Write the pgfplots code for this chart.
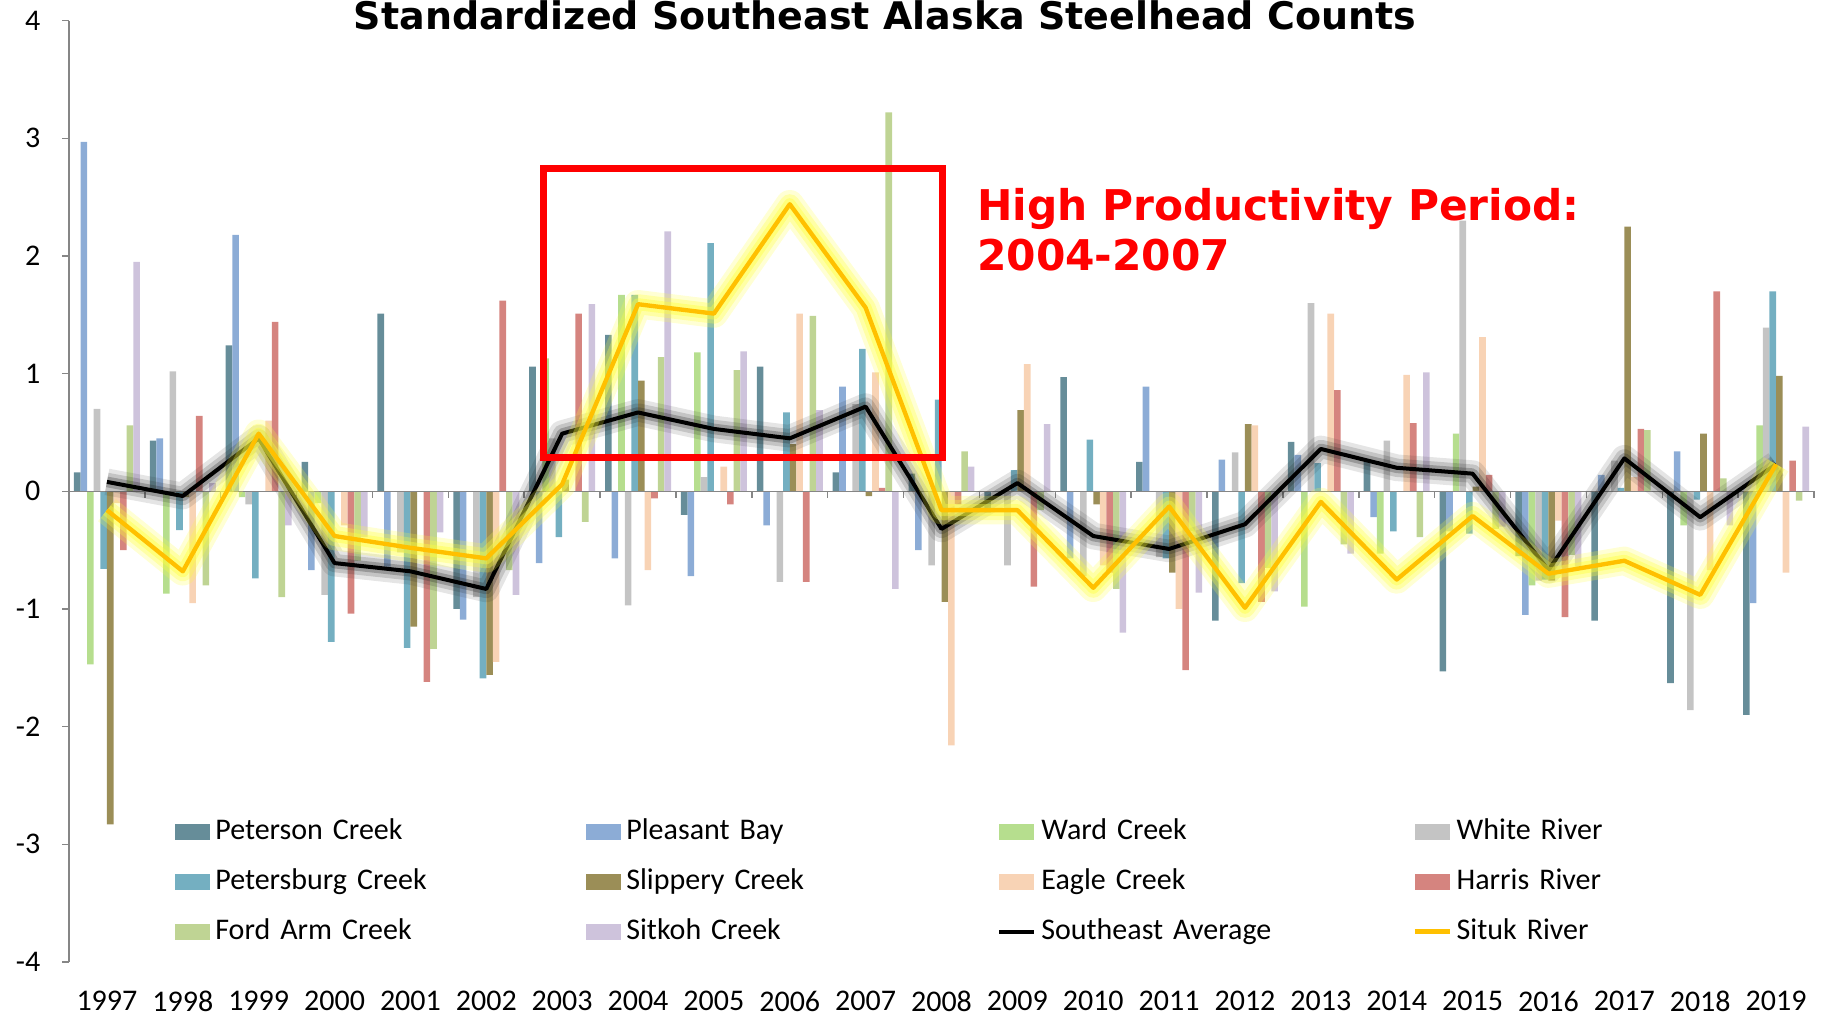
\documentclass[border=0pt]{standalone}
\usepackage{pgfplots}
\pgfplotsset{compat=1.18}
\usepackage{pgfplotstable}
\usepackage{fontspec}
\setmainfont{Carlito}
\newfontfamily\dejavu{DejaVu Sans}

\definecolor{cPet}{HTML}{668D99}
\definecolor{cPle}{HTML}{8CACD6}
\definecolor{cWar}{HTML}{B6DE8E}
\definecolor{cWhi}{HTML}{C4C4C4}
\definecolor{cPsb}{HTML}{74AFC1}
\definecolor{cSli}{HTML}{9B8E57}
\definecolor{cEag}{HTML}{F8D3B5}
\definecolor{cHar}{HTML}{D5847F}
\definecolor{cFor}{HTML}{BFD494}
\definecolor{cSit}{HTML}{CEC3DC}
\definecolor{cSitukLine}{HTML}{FFC000}
\definecolor{cGlowY}{HTML}{FFFF3A}
\definecolor{cGlowK}{HTML}{2A2A2A}
\definecolor{axgray}{HTML}{868686}

\pgfplotstableread{
year Pet Ple War Whi Psb Sli Eag Har For Sit SE Situk
1997 0.16 2.97 -1.47 0.70 -0.66 -2.83 -0.10 -0.50 0.56 1.95 0.08 -0.16
1998 0.43 0.45 -0.87 1.02 -0.33 -0.05 -0.95 0.64 -0.80 0.07 -0.04 -0.68
1999 1.24 2.18 -0.05 -0.11 -0.74 0.00 0.60 1.44 -0.90 -0.29 0.45 0.49
2000 0.25 -0.67 -0.10 -0.88 -1.28 0.00 -0.29 -1.04 -0.59 -0.39 -0.61 -0.38
2001 1.51 -0.64 0.00 -0.52 -1.33 -1.15 0.00 -1.62 -1.34 -0.35 -0.68 -0.48
2002 -1.00 -1.09 0.00 -0.90 -1.59 -1.56 -1.45 1.62 -0.67 -0.88 -0.83 -0.57
2003 1.06 -0.61 1.13 0.45 -0.39 0.10 0.00 1.51 -0.26 1.59 0.49 0.06
2004 1.33 -0.57 1.67 -0.97 1.67 0.94 -0.67 -0.06 1.14 2.21 0.67 1.59
2005 -0.20 -0.72 1.18 0.12 2.11 0.00 0.21 -0.11 1.03 1.19 0.53 1.51
2006 1.06 -0.29 0.00 -0.77 0.67 0.40 1.51 -0.77 1.49 0.69 0.45 2.44
2007 0.16 0.89 0.00 0.74 1.21 -0.04 1.01 0.03 3.22 -0.83 0.72 1.56
2008 0.15 -0.50 0.00 -0.63 0.78 -0.94 -2.16 -0.11 0.34 0.21 -0.32 -0.16
2009 -0.18 0.00 0.00 -0.63 0.18 0.69 1.08 -0.81 -0.16 0.57 0.07 -0.16
2010 0.97 -0.57 0.00 -0.72 0.44 -0.11 -0.63 -0.69 -0.83 -1.20 -0.38 -0.82
2011 0.25 0.89 0.00 -0.56 -0.57 -0.69 -1.00 -1.52 -0.34 -0.86 -0.49 -0.13
2012 -1.10 0.27 0.00 0.33 -0.78 0.57 0.56 -0.94 -0.65 -0.85 -0.28 -0.99
2013 0.42 0.31 -0.98 1.60 0.24 0.00 1.51 0.86 -0.45 -0.53 0.36 -0.09
2014 0.25 -0.22 -0.53 0.43 -0.34 0.00 0.99 0.58 -0.39 1.01 0.20 -0.75
2015 -1.53 -0.34 0.49 2.30 -0.36 0.04 1.31 0.14 -0.32 -0.30 0.15 -0.21
2016 -0.55 -1.05 -0.80 -0.76 -0.75 -0.76 -0.25 -1.07 -0.54 -0.64 -0.67 -0.70
2017 -1.10 0.14 0.00 0.26 0.03 2.25 0.12 0.53 0.52 0.00 0.28 -0.59
2018 -1.63 0.34 -0.29 -1.86 -0.07 0.49 -0.67 1.70 0.11 -0.29 -0.22 -0.88
2019 -1.90 -0.95 0.56 1.39 1.70 0.98 -0.69 0.26 -0.08 0.55 0.23 0.23
}\data

\pgfplotsset{
  mybar/.style={ybar, bar width=0.08696, draw=none,
    legend image code/.code={\fill[##1] (0pt,-2.4pt) rectangle (10.5pt,2.4pt);}},
  myline/.style={sharp plot, mark=none, line join=round,
    legend image code/.code={\draw[##1] (0pt,0pt) -- (10.5pt,0pt);}},
}

\begin{document}
\begin{tikzpicture}
\begin{axis}[
  scale only axis, width=523.5pt, height=282.42pt,
  xmin=1996.5, xmax=2019.5, ymin=-4, ymax=4,
  clip=false,
  axis x line*=bottom, axis y line*=left,
  x axis line style={draw=none},
  y axis line style={draw=axgray, line width=0.45pt},
  xtick={1997,1998,1999,2000,2001,2002,2003,2004,2005,2006,2007,2008,2009,2010,2011,2012,2013,2014,2015,2016,2017,2018,2019},
  xticklabels={1997,1998,1999,2000,2001,2002,2003,2004,2005,2006,2007,2008,2009,2010,2011,2012,2013,2014,2015,2016,2017,2018,2019},
  xtick style={draw=none},
  ytick={-4,-3,-2,-1,0,1,2,3,4},
  yticklabels={-4,-3,-2,-1,0,1,2,3,4},
  ytick style={draw=axgray, line width=0.45pt},
  tick align=outside, major tick length=2.1pt,
  /pgf/number format/assume math mode=true,
  tick label style={font=\fontsize{9}{10}\selectfont, inner sep=0pt},
  yticklabel style={xshift=-6.3pt},
  xticklabel style={anchor=north, yshift=-6.45pt},
  legend columns=4,
  legend cell align=left,
  legend style={at={(0.5344,0.0855)}, anchor=center, draw=none, fill=none,
    font=\fontsize{9}{10}\selectfont,
    column sep=0pt, row sep=6.7pt,
    nodes={inner xsep=1.5pt, inner ysep=0pt, text width=109.8pt,
      text height=6.5pt, text depth=1.8pt, align=left}},
]
\addplot[mybar, bar shift=-0.3913, fill=cPet] table[x=year,y=Pet]{\data};
\addlegendentry{Peterson Creek}
\addplot[mybar, bar shift=-0.3044, fill=cPle] table[x=year,y=Ple]{\data};
\addlegendentry{Pleasant Bay}
\addplot[mybar, bar shift=-0.2174, fill=cWar] table[x=year,y=War]{\data};
\addlegendentry{Ward Creek}
\addplot[mybar, bar shift=-0.1304, fill=cWhi] table[x=year,y=Whi]{\data};
\addlegendentry{White River}
\addplot[mybar, bar shift=-0.0435, fill=cPsb] table[x=year,y=Psb]{\data};
\addlegendentry{Petersburg Creek}
\addplot[mybar, bar shift=0.0435, fill=cSli] table[x=year,y=Sli]{\data};
\addlegendentry{Slippery Creek}
\addplot[mybar, bar shift=0.1304, fill=cEag] table[x=year,y=Eag]{\data};
\addlegendentry{Eagle Creek}
\addplot[mybar, bar shift=0.2174, fill=cHar] table[x=year,y=Har]{\data};
\addlegendentry{Harris River}
\addplot[mybar, bar shift=0.3044, fill=cFor] table[x=year,y=For]{\data};
\addlegendentry{Ford Arm Creek}
\addplot[mybar, bar shift=0.3913, fill=cSit] table[x=year,y=Sit]{\data};
\addlegendentry{Sitkoh Creek}

% zero axis line with boundary ticks
\draw[axgray, line width=0.45pt] (axis cs:1996.5,0) -- (axis cs:2019.5,0);
\pgfplotsinvokeforeach{1997.5,1998.5,1999.5,2000.5,2001.5,2002.5,2003.5,2004.5,2005.5,2006.5,2007.5,2008.5,2009.5,2010.5,2011.5,2012.5,2013.5,2014.5,2015.5,2016.5,2017.5,2018.5,2019.5}{
  \draw[axgray, line width=0.45pt] (axis cs:#1,0) -- ++(0pt,-2.1pt);
}

% Southeast average with dark glow
\addplot[myline, forget plot, draw=cGlowK, opacity=0.12, line width=8pt] table[x=year,y=SE]{\data};
\addplot[myline, forget plot, draw=cGlowK, opacity=0.18, line width=5.5pt] table[x=year,y=SE]{\data};
\addplot[myline, forget plot, draw=cGlowK, opacity=0.28, line width=3.2pt] table[x=year,y=SE]{\data};
\addplot[myline, draw=black, line width=1.2pt] table[x=year,y=SE]{\data};
\addlegendentry{Southeast Average}

% Situk River with yellow glow
\addplot[myline, forget plot, draw=cGlowY, opacity=0.22, line width=8.5pt] table[x=year,y=Situk]{\data};
\addplot[myline, forget plot, draw=cGlowY, opacity=0.30, line width=6pt] table[x=year,y=Situk]{\data};
\addplot[myline, forget plot, draw=cGlowY, opacity=0.40, line width=3.6pt] table[x=year,y=Situk]{\data};
\addplot[myline, draw=cSitukLine, line width=1.3pt] table[x=year,y=Situk]{\data};
\addlegendentry{Situk River}

% annotation
\draw[red, line width=2.1pt] (axis cs:2002.75,0.29) rectangle (axis cs:2008.01,2.74);
\node[anchor=base west, text=red, inner sep=0pt, font=\dejavu\bfseries\fontsize{12.7}{15}\selectfont]
  at (axis cs:2008.46,2.304) {High Productivity Period:};
\node[anchor=base west, text=red, inner sep=0pt, font=\dejavu\bfseries\fontsize{12.7}{15}\selectfont]
  at (axis cs:2008.46,1.874) {2004-2007};

% title
\node[anchor=base, inner sep=0pt, yshift=-2.52pt, font=\dejavu\bfseries\fontsize{11.4}{13}\selectfont]
  at (rel axis cs:0.4676,1) {Standardized Southeast Alaska Steelhead Counts};
\end{axis}
\pgfresetboundingbox
\path[use as bounding box] (-20.7pt,-15.9pt) rectangle (527.4pt,288.6pt);
\end{tikzpicture}
\end{document}
